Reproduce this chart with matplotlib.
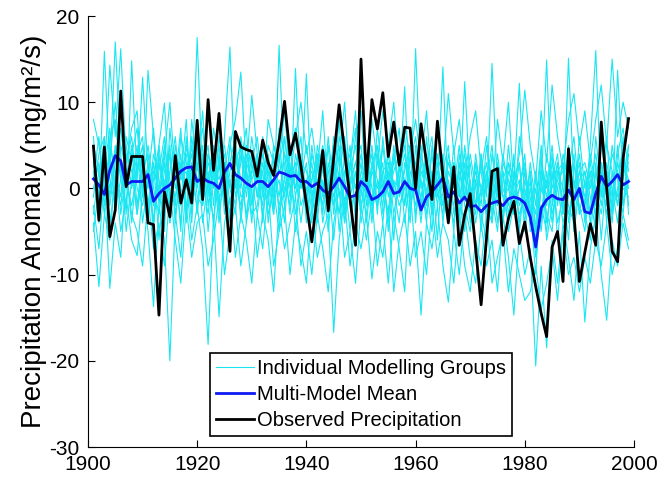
import numpy as np
import matplotlib
matplotlib.use('Agg')
import matplotlib.pyplot as plt

plt.rcParams['font.family'] = ['Liberation Sans', 'DejaVu Sans']
plt.rcParams['axes.unicode_minus'] = False

# Años
years = np.arange(1901, 2000)

# Precipitación observada
observed = [4.9, -3.7, 4.8, -5.6, -2.5, 11.3, 0.2, 3.7, 3.7, 3.7,
            -4.0, -4.2, -14.7, -0.4, -3.3, 3.8, -1.7, 1.0, -1.7, 7.9,
            -1.3, 10.3, 2.1, 8.7, 0.5, -7.3, 6.6, 4.8, 4.5, 4.3,
            1.4, 5.6, 3.0, 1.5, 5.5, 10.1, 3.9, 6.4, 2.6, -1.8,
            -6.2, -0.8, 4.4, -2.6, 3.5, 9.7, 4.3, -1.2, -6.6, 15.0,
            0.9, 10.3, 6.9, 11.1, 3.7, 7.7, 2.7, 7.1, 7.0, 0.0,
            7.5, 3.0, -1.3, 7.8, 1.5, -4.0, 2.5, -6.6, -3.0, -0.6,
            -7.0, -13.5, -5.7, 2.0, 2.3, -6.6, -3.5, -1.5, -6.4, -3.9,
            -8.0, -11.4, -14.5, -17.2, -6.8, -5.0, -10.8, 4.6, -3.1, -10.8,
            -7.4, -4.1, -6.6, 7.7, 0.0, -7.3, -8.5, 3.5, 8.1]

# Media multi-modelo
model_mean = [1.1, 0.4, -0.7, 2.1, 3.8, 3.2, 0.4, 0.8, 0.8, 0.8,
              1.6, -1.5, -0.6, 0.0, 0.4, 1.2, 2.0, 2.4, 2.5, 0.8,
              1.2, 0.8, 0.6, 0.0, 1.9, 2.9, 1.6, 1.2, 0.6, 0.2,
              0.8, 0.8, 0.2, 1.0, 1.9, 1.7, 1.4, 1.5, 0.8, 0.8,
              0.2, 0.6, -0.2, -0.6, 0.2, 1.2, 0.2, -1.0, -0.8, 0.8,
              0.2, -1.3, -1.0, -0.4, 0.8, -0.6, -0.4, 0.8, 0.0, -0.2,
              -2.5, -1.0, -0.4, 0.4, 1.2, -1.0, -0.4, -1.7, -1.0, -2.1,
              -2.0, -2.7, -2.0, -1.7, -1.5, -2.0, -1.2, -1.0, -1.2, -1.7,
              -3.3, -6.8, -2.3, -1.3, -0.8, -1.2, -1.3, -0.2, -1.3, 0.0,
              -2.7, -2.9, -0.6, 1.4, 0.2, 0.8, 1.6, 0.4, 0.8]

# Grupos de modelos individuales (estimados)
group_u1 = [3, -2, 15.9, 2, 17.0, 4, -3, 14.8, 1, 12.9,
            2, -4, 5, 9.9, -1, 3, -5, 6, 0, 17.5,
            1, -3, 4, -2, 6, 16.4, 0, 5, -4, 3,
            -1, 6, 2, -3, 16.6, 1, -2, 13.9, 0, 13.3,
            -2, 4, -1, 6, 0, 8, -3, 3, 9, -1,
            4, -2, 7, 1, -3, 5, 0, 11.8, -2, 16.2,
            1, -4, 5, 0, 14.1, -2, 3, -1, 12.4, 0,
            -3, 4, -1, 14.5, 0, -4, 3, 1, 12.2, -2,
            2, -5, 0, 14.9, -2, 3, -3, 15.1, 0, 4,
            -2, 5, 16.0, -1, 2, -3, 13.7, 1, 5]
group_u2 = [8, 5, 1, 14.3, 6, 16.2, 3, 7, 9, -1,
            13.7, 6, -2, 4, 10, 1, 7, -3, 8, 2,
            9, -1, 7, 3, -2, 5, 8, 13.5, 2, 10.8,
            4, -1, 8, 5, 3, 9, 1, 6, 10, 4,
            7, 2, 9, -1, 5, 3, 10, 0, 6, 9,
            -1, 8, 3, 9, 5, 10, 2, 7, 4, 8,
            3, 9, 0, 7, 2, 11, 4, 8, 1, 6,
            9, 2, 6, -1, 8, 3, 10, 0, 4, 11.4,
            5, 1, 9, 3, 12, 6, 2, 8, 11, 5,
            9, 3, 8, 12, 5, 15, 6, 10, 7]
group_l1 = [-4, -11.4, -3, -6, 2, -5, -1, -6, -7.8, 0,
            -5, -13.7, -2, -6, -20.0, -3, -8, 1, -6, -2,
            -7, -18.1, -3, -14.9, -4, -1, -8, -3, -6, -11,
            -3, -7, 0, -9, -5, -2, -10, -4, -7, -11,
            -2, -8, -5, -3, -16.7, -6, -1, -9, -4, -7,
            -3, -10.5, -5, -8, -2, -12, -6, -3, -9, -5,
            -14.7, -4, -7, -2, -9, -13.2, -5, -10, -3, -8,
            -11, -4, -9, -6, -12, -3, -8, -14.7, -5, -10,
            -7, -20.6, -9, -18.5, -6, -11, -4, -8, -13, -5,
            -15.5, -7, -3, -10, -15.3, -6, -9, -4, -7]
group_l2 = [-2, -7, 1, -11.6, -4, -8, 2, -3, -5, -9,
            -1, -7, -4, -9, 0, -6, -11, -2, -8, -4,
            -3, -9, -6, -1, -10, -5, -2, -9, -4, 0,
            -8, -3, -6, -12, -2, -7, -4, -1, -9, -5,
            -10, -3, -7, -12, -4, 0, -8, -5, -11, -2,
            -6, -1, -9, -4, -11, -3, -7, -12, 0, -8,
            -5, -10, -2, -8, -4, -6, -11, -3, -9, -12,
            -6, -9, -3, -11, -8, -5, -12, -7, -10, -13,
            -12, -9, -14, -11, -7, -13, -5, -10, -8, -12,
            -8, -11, -6, -9, -4, -10, -7, -3, -6]
group_m1 = [5, 2, -3, 6, 8, 1, -2, 4, 7, -1,
            3, -4, 2, 6, -2, 5, 1, 8, -3, 4,
            7, 0, 4, -3, 2, 6, -1, 3, 7, -2,
            2, 5, -4, 1, 6, -1, 4, 7, 0, 3,
            -3, 5, 2, -1, 6, 3, -4, 2, 5, -2,
            1, 4, -3, 6, 0, 3, 7, -2, 4, 1,
            -4, 3, 6, -1, 2, 5, -3, 1, 4, -2,
            3, -5, 1, 5, -2, 4, 0, -3, 6, 2,
            -1, -6, 3, 0, 5, -2, 4, 1, -3, 6,
            0, 3, -2, 5, 1, -4, 4, 7, 2]
group_m2 = [-1, 4, 6, -2, 3, 9, 5, 0, 4, 6,
            -3, 1, 5, -1, 4, -2, 6, 3, -1, 7,
            2, 5, -2, 6, 1, -3, 4, 0, 5, 3,
            6, 0, 3, -2, 7, 4, -1, 2, 6, -3,
            4, 1, -2, 5, -3, 2, 6, 0, 3, 5,
            -2, 3, 5, 0, 4, -1, 2, 6, -3, 3,
            5, -2, 1, 4, -4, 2, 0, 5, -1, 3,
            -2, 4, -4, 2, 0, -3, 5, -1, 1, -4,
            3, -2, 5, -4, 1, 4, -3, 2, 6, -1,
            2, -3, 6, 0, -2, 5, 1, -3, 4]
group_m3 = [2, -3, 4, 1, -2, 5, 2, -4, 3, 1,
            5, 0, -3, 2, 4, -4, 3, 0, 5, -1,
            -2, 3, 1, 5, -3, 2, 4, -1, 0, 6,
            1, -2, 5, 3, -1, 4, 2, -3, 1, 5,
            0, -4, 3, 2, -2, 4, 1, -5, 2, 0,
            3, -3, 1, -2, 5, 0, -4, 3, 1, -2,
            2, 0, -5, 3, -1, -4, 2, 0, -5, 1,
            -4, 0, 3, -3, 4, -1, -4, 2, -2, 0,
            -4, 0, -5, 2, -3, 0, 3, -4, 1, -2,
            -5, 1, -1, 3, -4, 2, -2, 4, 0]
group_m4 = [-5, 0, 3, -4, 1, -2, 4, 2, -3, 3,
            0, 3, -6, 1, -3, 2, -4, 5, 1, -2,
            4, -5, 2, 0, 3, -4, 1, -2, 2, -3,
            -2, 3, -1, 4, -3, 0, 3, -5, 2, -1,
            3, -2, 1, -5, 2, -3, 4, -2, -1, 3,
            -4, 2, 0, 3, -5, 1, -2, 0, 5, -3,
            1, -3, 2, -6, 4, -1, -4, 3, -2, -5,
            1, -3, -6, 0, -2, 2, -5, -2, 3, -3,
            1, -8, -2, -5, 2, -4, -1, 3, -5, 0,
            -3, -6, 2, -2, 3, -1, 5, -2, 1]
group_m5 = [1, 6, -1, 3, 10, 2, 0, 5, -2, 4,
            -2, 4, 1, -5, 7, 0, 3, -4, 6, 1,
            0, 2, -4, 3, 5, 0, -3, 6, 1, 2,
            4, -3, 2, 0, -5, 6, 1, 3, -2, 0,
            1, 3, -4, 0, 4, -5, 2, 4, -3, 1,
            2, -4, 4, -1, 2, -6, 3, 1, -4, 5,
            -2, 4, -3, 1, -2, 3, 1, -6, 2, -3,
            4, -1, 2, -4, 3, 0, -2, 4, -5, 1,
            -2, -10, 1, -3, -5, 2, 0, -6, 3, -3,
            1, -4, 3, -6, 2, 0, -4, 2, 3]
group_m6 = [4, -4, 2, 7, -1, 3, -5, 1, 5, -4,
            1, 7, -1, 3, -4, 4, 0, -2, 2, 5,
            -4, 1, 5, -1, 0, 3, 6, -4, 3, 1,
            -3, 2, 4, -1, 1, -4, 5, 0, 3, 2,
            -1, 2, 5, 1, -6, 1, 0, 3, 7, -4,
            0, 5, -2, 2, 3, -3, 1, 4, -1, 2,
            -3, 6, -1, 2, 0, -2, 5, -4, 3, -1,
            2, -2, 5, -1, -5, 3, 1, -3, 0, 4,
            -5, -4, 2, -1, 4, -6, 1, 4, -2, 2,
            -1, 2, -4, 1, 6, -3, 0, 5, -2]
group_m7 = [0, 3, -2, 5, 2, -1, 6, 3, -3, 2,
            4, -2, 3, 0, 5, -3, 2, 4, -1, 3,
            -1, 4, 0, 3, -2, 5, 2, -3, 4, 1,
            3, 0, -2, 5, 2, 3, -3, 4, 1, -2,
            5, 0, 3, -3, 1, 5, -2, 3, 0, 4,
            -1, 2, 5, -3, 1, 4, 0, -2, 3, 6,
            0, 2, -3, 4, 1, -2, 3, -3, 5, 0,
            -2, 3, 0, 2, -4, 1, 3, -2, 0, 3,
            -3, 2, -4, 4, 0, 3, -2, 5, -1, 2,
            3, 0, 4, -1, 5, 2, -2, 3, 1]
group_m8 = [3, 0, 6, -1, 4, 7, 1, -2, 2, 5,
            -4, 2, 0, 5, 1, -1, 4, -3, 3, 0,
            5, -2, 3, 1, 4, -2, 3, 5, -1, 4,
            -1, 4, 1, -3, 3, 6, 0, 2, -4, 1,
            2, -3, 4, 0, -2, 6, 3, -1, 2, -3,
            4, 0, -2, 5, -1, 2, 4, -4, 2, 0,
            3, -1, 4, -2, 3, 0, -2, 2, -1, 4,
            0, -4, 2, -1, 1, -4, 2, 0, -3, -1,
            2, -5, 0, -2, 3, 0, -4, -1, 4, -3,
            -2, 2, -3, 3, -1, 4, 2, -2, 5]
group_m9 = [-3, 2, 0, 4, -2, 1, 3, 6, 0, -2,
            2, -5, 4, -2, 2, 6, -2, 1, 4, -3,
            3, 1, -4, 4, -1, 1, -2, 4, 2, -4,
            4, -4, 3, 2, -2, 1, 5, -1, 3, 0,
            -4, 3, 0, 2, 3, -1, 1, 5, -4, 2,
            1, -2, 3, 1, -4, 4, -1, 2, 5, -4,
            4, 1, -2, 0, -3, 4, 1, -1, 2, -4,
            1, 2, -3, 4, -1, 2, -3, 1, 3, -5,
            0, -3, 4, -6, -2, 1, 2, -3, 0, 3,
            -4, 4, 0, -3, 2, -2, 3, 0, -1]
group_m10 = [6, -2, 3, 0, 5, -3, 2, 3, 4, 1,
             -3, 3, -1, 4, -4, 3, 1, 2, -4, 6,
             -2, 4, 2, -4, 3, 0, 5, 1, -3, 2,
             1, 2, -3, 0, 4, -2, 2, 0, 4, -4,
             1, 4, -3, 3, -1, 2, -4, 1, 3, 0,
             -3, 3, 1, -4, 3, 0, 2, 5, -2, 1,
             -1, 3, 0, 2, -2, 1, -5, 4, 0, -2,
             3, 0, -2, -4, 2, -1, 0, 3, -4, 2,
             -4, 1, -3, 1, -4, 2, 3, -2, -4, 1,
             2, -1, -5, 2, -3, 1, -1, 6, -3]

groups = [group_u1, group_m1, group_l1, group_m2, group_u2, group_m7,
          group_m3, group_l2, group_m4, group_m8, group_m5, group_m9,
          group_m6, group_m10]

fig = plt.figure(figsize=(6.6, 4.82), dpi=100)
ax = fig.add_axes([0.1333, 0.0726, 0.8273, 0.8942])

cyan = (0.1, 0.9, 0.95)
for i, g in enumerate(groups):
    ax.plot(years, g, color=cyan, lw=0.8,
            label='Individual Modelling Groups' if i == 0 else None)
ax.plot(years, model_mean, color=(0.05, 0.1, 0.95), lw=2, label='Multi-Model Mean')
ax.plot(years, observed, color='black', lw=2, label='Observed Precipitation')

ax.set_xlim(1900, 2000)
ax.set_ylim(-30, 20)
ax.set_xticks(np.arange(1900, 2001, 20))
ax.set_yticks(np.arange(-30, 21, 10))
ax.spines['top'].set_visible(False)
ax.spines['right'].set_visible(False)
ax.tick_params(direction='in', length=5, labelsize=15, pad=6)
ax.set_ylabel('Precipitation Anomaly (mg/m²/s)', fontsize=20, labelpad=2)

leg = ax.legend(loc='lower center', bbox_to_anchor=(0.5, 0.025), fontsize=14.5,
                frameon=True, fancybox=False, framealpha=1, edgecolor='black',
                handlelength=1.9, handletextpad=0.15, labelspacing=0.35,
                borderpad=0.3, borderaxespad=0)
leg.get_frame().set_linewidth(1.2)

plt.savefig('out.png', dpi=100)
